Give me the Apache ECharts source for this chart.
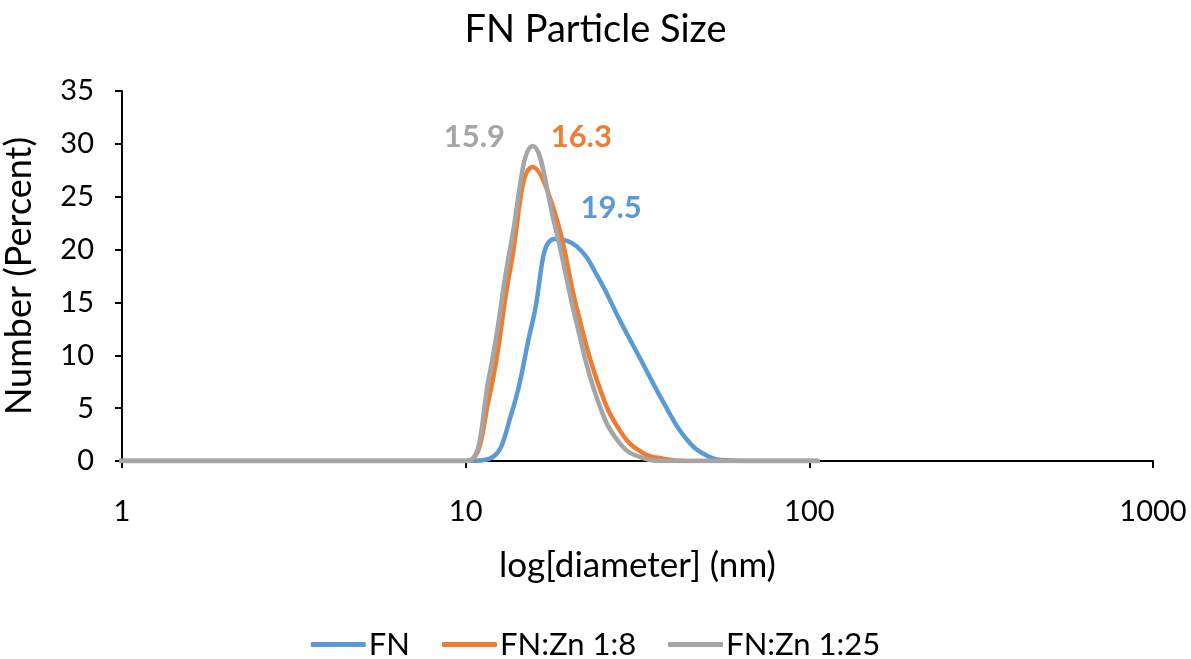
<!DOCTYPE html>
<html>
<head>
<meta charset="utf-8">
<title>FN Particle Size</title>
<script src="https://cdn.jsdelivr.net/npm/echarts@6/dist/echarts.min.js"></script>
<style>
  html, body { margin: 0; padding: 0; background: #fff; }
  #chart { width: 1191px; height: 659px; }
</style>
</head>
<body>
<div id="chart"></div>
<script>
// Size bins (nm), log-spaced
const diameters = [0.9649, 1.117, 1.294, 1.499, 1.736, 2.01, 2.328, 2.696, 3.122, 3.615,
  4.187, 4.849, 5.615, 6.503, 7.531, 8.721, 10.1, 11.7, 13.54, 15.69, 18.17, 21.04,
  24.36, 28.21, 32.67, 37.84, 43.82, 50.75, 58.77, 68.06, 78.82, 91.28, 105.7];

// Number distribution (%) per bin
const fnValues = [0, 0, 0, 0, 0, 0, 0, 0, 0, 0, 0, 0, 0, 0, 0, 0,
  0, 0.2, 4.3, 13.3, 21.0, 20.3, 17.3, 13.2, 9.3, 5.4, 2.1, 0.45, 0.05, 0, 0, 0, 0];
const fnZn8Values = [0, 0, 0, 0, 0, 0, 0, 0, 0, 0, 0, 0, 0, 0, 0, 0,
  0, 6.0, 18.5, 27.8, 23.5, 14.5, 7.2, 2.8, 0.8, 0.2, 0, 0, 0, 0, 0, 0, 0];
const fnZn25Values = [0, 0, 0, 0, 0, 0, 0, 0, 0, 0, 0, 0, 0, 0, 0, 0,
  0, 8.0, 20.5, 29.8, 22.3, 13.0, 5.5, 1.6, 0.3, 0, 0, 0, 0, 0, 0, 0, 0];

const seriesNames = ['FN', 'FN:Zn 1:8', 'FN:Zn 1:25'];
const peakLabels = ['19.5', '16.3', '15.9'];
const xTickLabels = [1, 10, 100, 1000];
const yTicks = [0, 5, 10, 15, 20, 25, 30, 35];

const colors = ['#5B9BD5', '#ED7D31', '#A5A5A5'];
const FONT = 'Lato';

function pairs(vals) {
  return diameters.map((d, i) => [d, vals[i]]);
}

// annotation anchors in data space [diameter, percent]
const labelAnchors = [[26.5, 23.9], [21.7, 30.65], [10.6, 30.65]];

function makeSeries(name, vals, idx) {
  return {
    name: name,
    type: 'line',
    data: pairs(vals),
    smooth: 0.45,
    symbol: 'none',
    clip: true,
    lineStyle: { color: colors[idx], width: 4.5, cap: 'round', join: 'round' },
    itemStyle: { color: colors[idx] },
    z: 2 + idx,
    markPoint: {
      symbol: 'circle',
      symbolSize: 0,
      silent: true,
      data: [{
        coord: labelAnchors[idx],
        label: {
          show: true,
          formatter: peakLabels[idx],
          position: 'inside',
          color: colors[idx],
          fontFamily: FONT,
          fontWeight: 'bold',
          fontSize: 31
        }
      }]
    }
  };
}

const chart = echarts.init(document.getElementById('chart'), null, { renderer: 'canvas' });

chart.setOption({
  animation: false,
  backgroundColor: '#ffffff',
  title: {
    text: 'FN Particle Size',
    left: 'center',
    top: 6,
    textStyle: { fontFamily: FONT, fontSize: 38, fontWeight: 'normal', color: '#000' }
  },
  legend: {
    top: 624,
    left: 'center',
    icon: 'roundRect',
    itemWidth: 55,
    itemHeight: 5,
    itemGap: 32,
    textStyle: { fontFamily: FONT, fontSize: 31, color: '#000', padding: [0, 0, 0, -2] },
    data: seriesNames
  },
  grid: { left: 122, right: 38, top: 91, bottom: 198, containLabel: false, outerBoundsMode: 'none' },
  xAxis: {
    type: 'log',
    logBase: 10,
    min: xTickLabels[0],
    max: xTickLabels[xTickLabels.length - 1],
    name: 'log[diameter] (nm)',
    nameLocation: 'middle',
    nameGap: 87,
    nameTextStyle: { fontFamily: FONT, fontSize: 35, color: '#000' },
    axisLine: { lineStyle: { color: '#000', width: 2 } },
    axisTick: { show: true, inside: false, length: 7, lineStyle: { color: '#000', width: 2 } },
    minorTick: { show: false },
    splitLine: { show: false },
    axisLabel: {
      fontFamily: FONT, fontSize: 29, color: '#000', margin: 36,
      formatter: v => String(Math.round(v))
    }
  },
  yAxis: {
    type: 'value',
    min: yTicks[0],
    max: yTicks[yTicks.length - 1],
    interval: 5,
    name: 'Number (Percent)',
    nameLocation: 'middle',
    nameGap: 85,
    nameRotate: 90,
    nameTextStyle: { fontFamily: FONT, fontSize: 36, color: '#000' },
    axisLine: { show: true, lineStyle: { color: '#000', width: 2 } },
    axisTick: { show: true, inside: false, length: 7, lineStyle: { color: '#000', width: 2 } },
    splitLine: { show: false },
    axisLabel: { fontFamily: FONT, fontSize: 29, color: '#000', margin: 28 }
  },
  series: [
    makeSeries(seriesNames[0], fnValues, 0),
    makeSeries(seriesNames[1], fnZn8Values, 1),
    makeSeries(seriesNames[2], fnZn25Values, 2)
  ]
});
</script>
</body>
</html>
